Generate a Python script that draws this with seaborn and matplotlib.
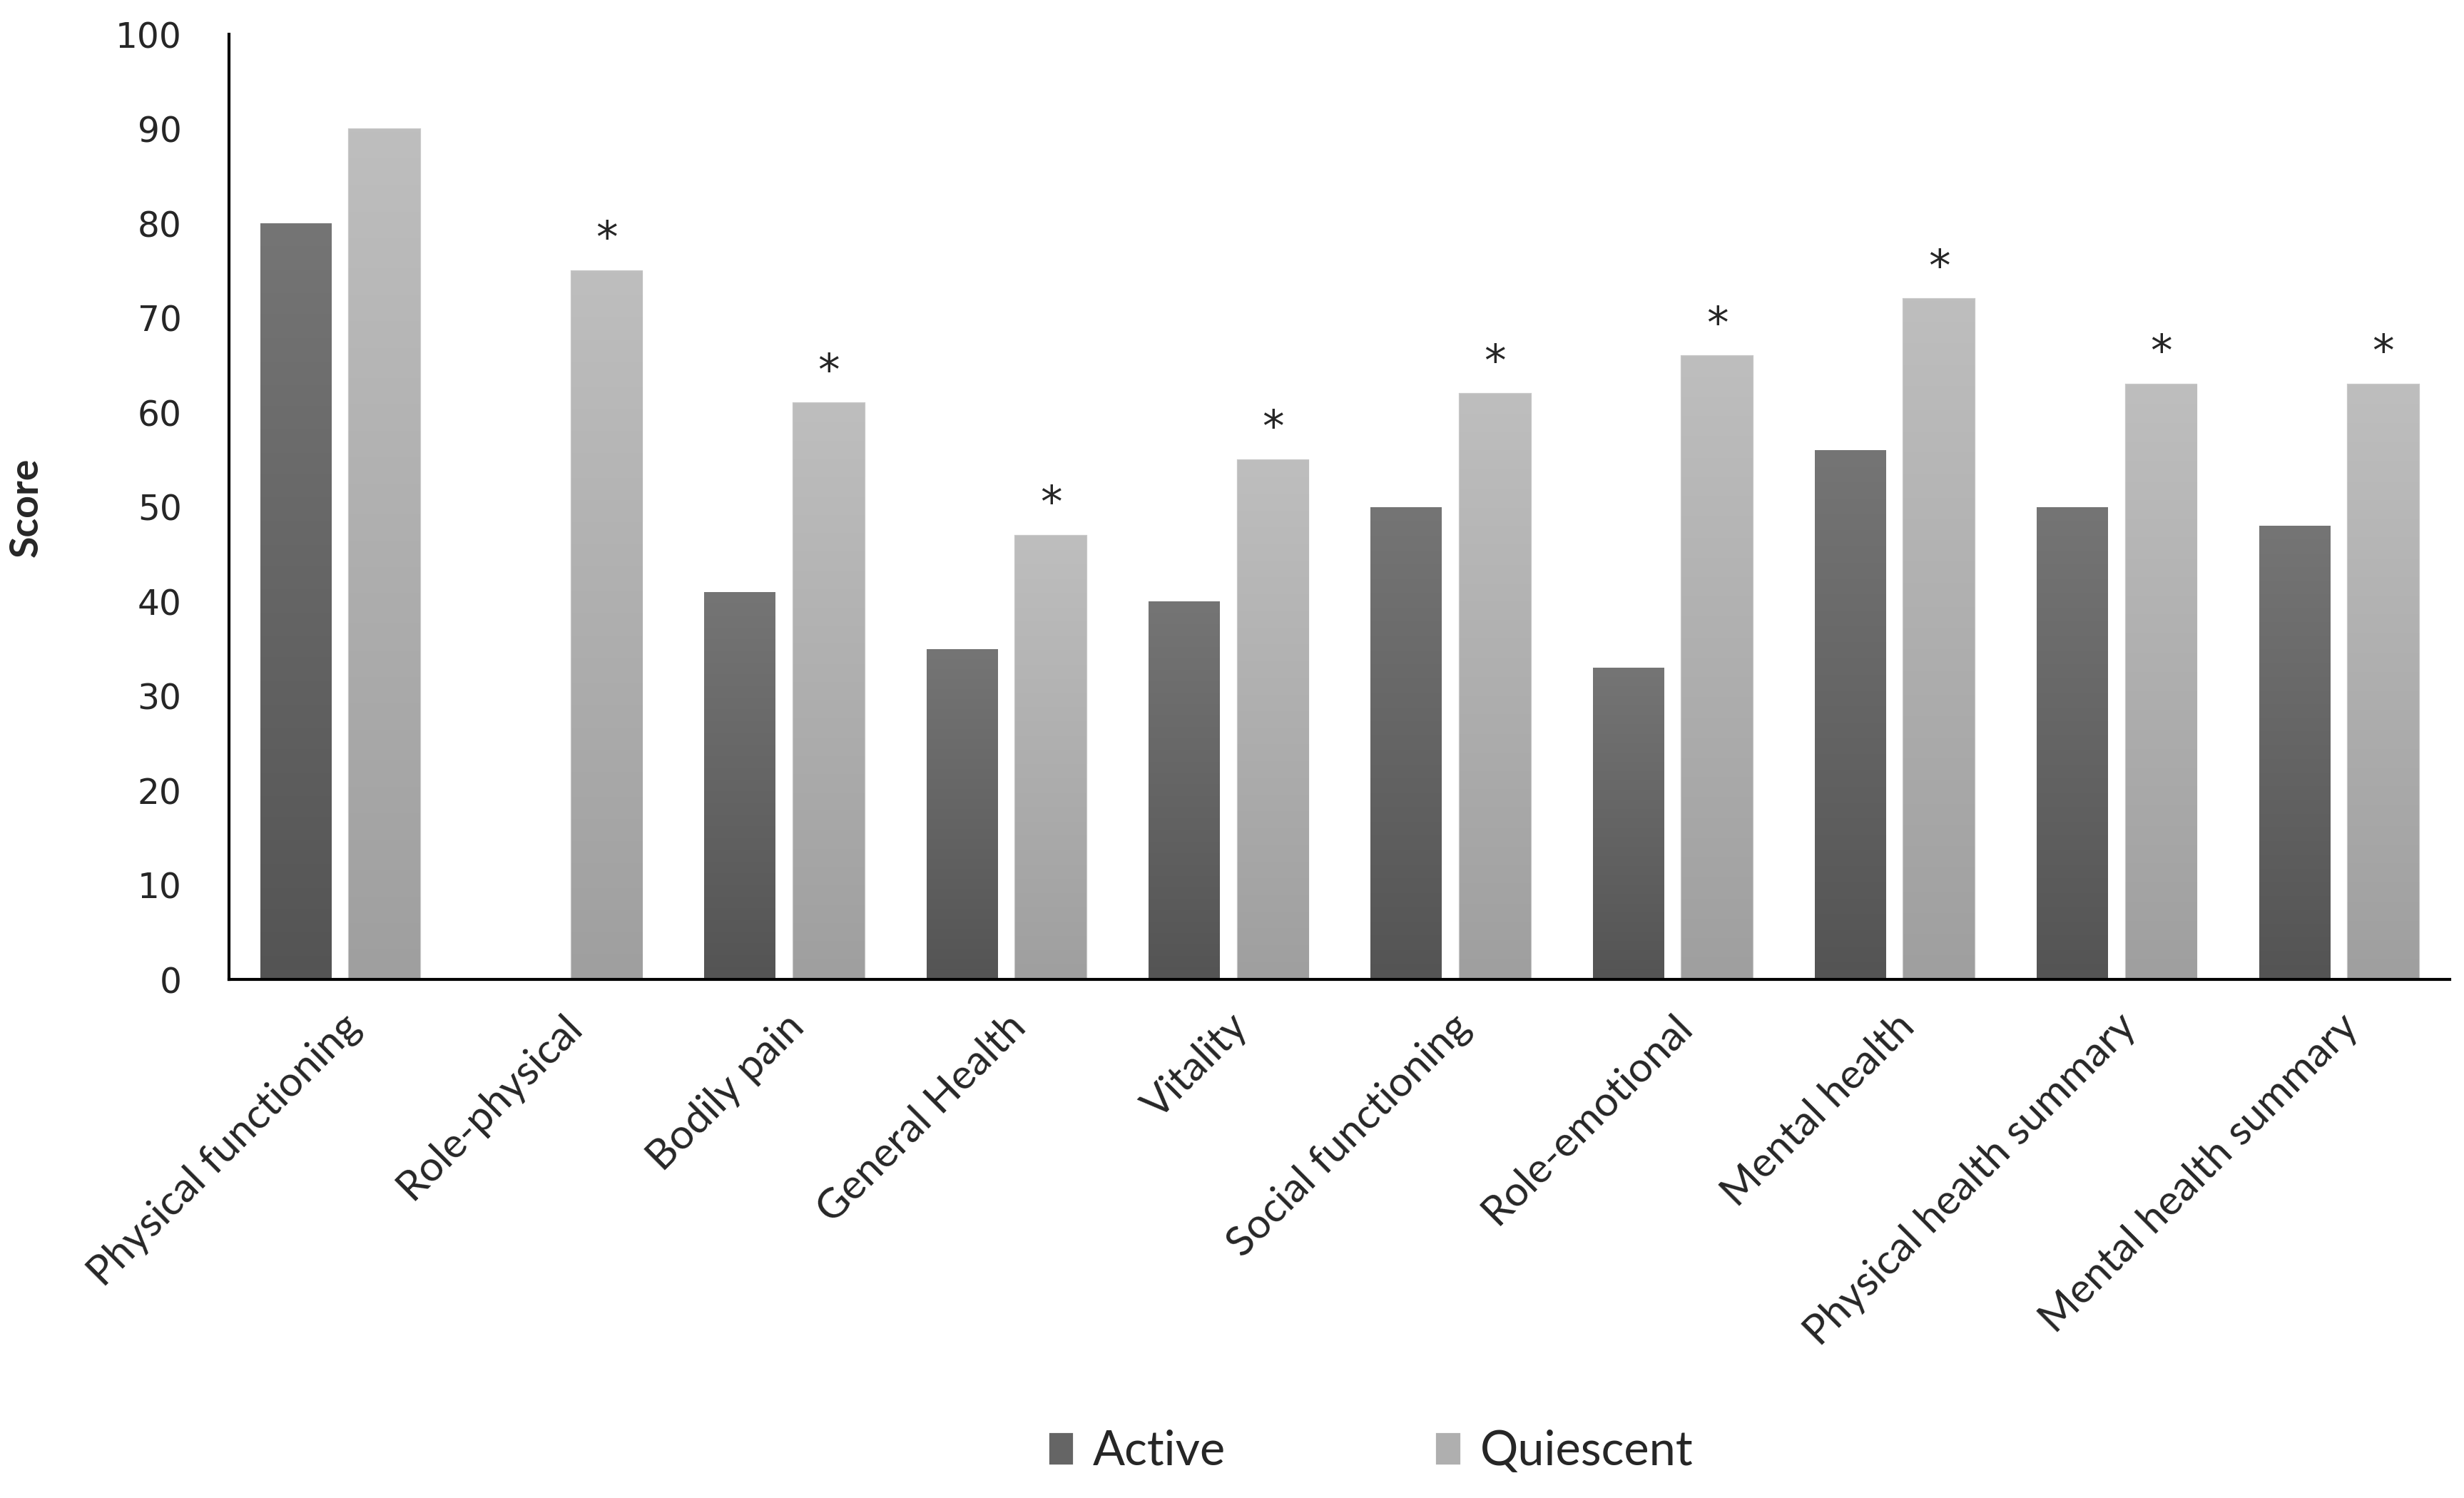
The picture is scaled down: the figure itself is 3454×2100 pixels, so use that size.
import numpy as np
import pandas as pd
import seaborn as sns
import matplotlib.pyplot as plt
from matplotlib.colors import LinearSegmentedColormap

# Data
categories = ['Physical functioning', 'Role-physical', 'Bodily pain', 'General Health',
              'Vitality', 'Social functioning', 'Role-emotional', 'Mental health',
              'Physical health summary', 'Mental health summary']
active = [80, np.nan, 41, 35, 40, 50, 33, 56, 50, 48]
quiescent = [90, 75, 61, 47, 55, 62, 66, 72, 63, 63]
significant = [False, True, True, True, True, True, True, True, True, True]
groups = ['Active', 'Quiescent']

df = pd.DataFrame({
    'category': categories * 2,
    'group': ['Active'] * len(categories) + ['Quiescent'] * len(categories),
    'score': active + quiescent,
})

sns.set_style('white')
plt.rcParams['font.family'] = ['Lato', 'DejaVu Sans']

fig, ax = plt.subplots(figsize=(17.275, 10.5), dpi=200)
fig.subplots_adjust(left=0.093, right=0.994, top=0.977, bottom=0.346)

sns.barplot(data=df, x='category', y='score', hue='group', hue_order=groups,
            palette={'Active': '#656565', 'Quiescent': '#afafaf'},
            width=0.8, gap=0.2, ax=ax)

# gradient fill (lighter at top, darker at bottom) like the original
grads = {
    'Active': LinearSegmentedColormap.from_list('a', ['#545454', '#757575']),
    'Quiescent': LinearSegmentedColormap.from_list('q', ['#9f9f9f', '#bebebe']),
}
ramp = np.linspace(0, 1, 256).reshape(-1, 1)
for cont, g in zip(ax.containers, groups):
    for bar in cont:
        h = bar.get_height()
        if not np.isfinite(h) or h <= 0:
            continue
        x0 = bar.get_x()
        w = bar.get_width()
        im = ax.imshow(ramp, cmap=grads[g], origin='lower', aspect='auto',
                       extent=(x0, x0 + w, 0, h), zorder=bar.get_zorder() + 0.1)
        im.set_clip_path(bar)
        if g == 'Quiescent':
            bar.set_edgecolor('#c8c8c8')
            bar.set_linewidth(0.8)

# significance stars on the quiescent bars
for bar, sig in zip(ax.containers[1], significant):
    if sig:
        ax.text(bar.get_x() + bar.get_width() / 2, bar.get_height() + 1.0, '*',
                ha='center', va='bottom', fontsize=22, family=['DejaVu Sans'])

ax.set_xlim(-0.5, len(categories) - 0.5)
ax.set_ylim(0, 100)
ax.set_yticks(range(0, 101, 10))
ax.set_xlabel('')
ax.set_ylabel('Score', fontsize=20, fontweight='bold', labelpad=36)
ax.tick_params(axis='y', length=0, pad=24, labelsize=17.5)
ax.tick_params(axis='x', length=0, pad=14, labelsize=21)
for lab in ax.get_yticklabels():
    lab.set_family(['DejaVu Sans'])
plt.setp(ax.get_xticklabels(), rotation=45, ha='right', rotation_mode='anchor')

sns.despine(ax=ax)
for s in ['left', 'bottom']:
    ax.spines[s].set_color('black')
    ax.spines[s].set_linewidth(1.5)

sns.move_legend(ax, 'center', bbox_to_anchor=(0.556, 0.031),
                bbox_transform=fig.transFigure, ncol=2, frameon=False, title=None,
                fontsize=24, handlelength=0.55, handleheight=0.7,
                handletextpad=0.4, columnspacing=4.4)

fig.savefig('out.png', dpi=200)
